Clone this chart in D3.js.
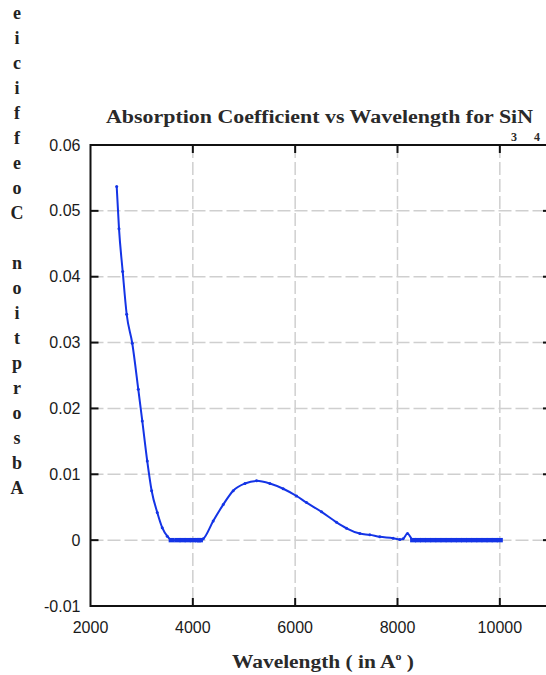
<!DOCTYPE html>
<html>
<head>
<meta charset="utf-8">
<script src="https://cdn.jsdelivr.net/npm/d3@7"></script>
<style>
  body { margin: 0; background: #fff; }
  svg { display: block; }
</style>
</head>
<body>
<svg id="chart" width="546" height="675"></svg>
<script>
(function() {
  // Data (wavelength in angstrom, absorption coefficient)
  const wavelength = [
    2512, 2557, 2629, 2707, 2816, 2934, 3012, 3109, 3195, 3305, 3402, 3500,
    3586, 3700, 3800, 3900, 4000, 4100, 4139, 4203, 4398, 4594, 4789, 5018,
    5246, 5506, 5766, 6027, 6223, 6516, 6809, 7004, 7264, 7459, 7654, 7914,
    8045, 8109, 8195, 8305, 8400, 8500, 8600, 8700, 8800, 8900, 9000, 9100,
    9200, 9300, 9400, 9500, 9600, 9700, 9800, 9900, 10000
  ];
  const absorption = [
    0.0537, 0.0473, 0.0408, 0.0343, 0.0299, 0.0229, 0.0181, 0.0120, 0.0075, 0.0042, 0.0019, 0.0006,
    0, 0, 0, 0, 0, 0, 0, 0.0002, 0.0029, 0.0054, 0.0075, 0.0086,
    0.0090, 0.0086, 0.0078, 0.0067, 0.0057, 0.0043, 0.0027, 0.0018, 0.0010, 0.0008, 0.0005, 0.0003,
    0.0001, 0.0002, 0.0010, 0, 0, 0, 0, 0, 0, 0, 0, 0,
    0, 0, 0, 0, 0, 0, 0, 0, 0
  ];
  const xTicks = [2000, 4000, 6000, 8000, 10000];
  const yTicks = [-0.01, 0, 0.01, 0.02, 0.03, 0.04, 0.05, 0.06];
  const yLabelText = "Absorption Coefficie";
  const titleText = "Absorption Coefficient vs Wavelength for SiN";
  const titleSubs = ["3", "4"];

  const points = wavelength.map((w, i) => ({ w, a: absorption[i] }));

  const svg = d3.select("#chart");
  const margin = { top: 145, right: -5, bottom: 69, left: 90.5 };
  const width = 546 - margin.left - margin.right;
  const height = 675 - margin.top - margin.bottom;

  const x = d3.scaleLinear().domain([2000, 11000]).range([0, width]);
  const y = d3.scaleLinear().domain([-0.01, 0.06]).range([height, 0]);

  const g = svg.append("g").attr("transform", `translate(${margin.left},${margin.top})`);

  // Grid
  g.append("g")
    .selectAll("line")
    .data(xTicks.slice(1))
    .join("line")
    .attr("x1", d => x(d)).attr("x2", d => x(d))
    .attr("y1", 0).attr("y2", height)
    .attr("stroke", "#cfcfcf").attr("stroke-width", 1.5)
    .attr("stroke-dasharray", "13,4");
  g.append("g")
    .selectAll("line")
    .data(yTicks.slice(1, -1))
    .join("line")
    .attr("x1", 0).attr("x2", width)
    .attr("y1", d => y(d)).attr("y2", d => y(d))
    .attr("stroke", "#cfcfcf").attr("stroke-width", 1.5)
    .attr("stroke-dasharray", "13,4");

  // Curve
  const blue = "#1434e6";
  const line = d3.line().x(d => x(d.w)).y(d => y(d.a)).curve(d3.curveMonotoneX);
  g.append("path")
    .datum(points)
    .attr("fill", "none")
    .attr("stroke", blue)
    .attr("stroke-width", 2)
    .attr("d", line);
  // dense markers on the flat parts merge into a thick band
  g.append("g")
    .selectAll("rect")
    .data(points.filter(d => d.a === 0))
    .join("rect")
    .attr("x", d => x(d.w) - 3)
    .attr("y", d => y(d.a) - 2.2)
    .attr("width", 6)
    .attr("height", 4.4)
    .attr("fill", blue);
  g.append("g")
    .selectAll("circle")
    .data(points.filter(d => d.a !== 0))
    .join("circle")
    .attr("cx", d => x(d.w))
    .attr("cy", d => y(d.a))
    .attr("r", 1.5)
    .attr("fill", blue);

  // Frame with inward ticks
  const axisColor = "#111";
  g.append("rect")
    .attr("width", width).attr("height", height)
    .attr("fill", "none").attr("stroke", axisColor).attr("stroke-width", 2);

  const ticks = g.append("g").attr("stroke", axisColor).attr("stroke-width", 2);
  xTicks.slice(1).forEach(t => {
    ticks.append("line").attr("x1", x(t)).attr("x2", x(t)).attr("y1", 0).attr("y2", 8);
    ticks.append("line").attr("x1", x(t)).attr("x2", x(t)).attr("y1", height).attr("y2", height - 8);
  });
  yTicks.slice(1, -1).forEach(t => {
    ticks.append("line").attr("x1", 0).attr("x2", 8).attr("y1", y(t)).attr("y2", y(t));
    ticks.append("line").attr("x1", width).attr("x2", width - 8).attr("y1", y(t)).attr("y2", y(t));
  });

  // Tick labels
  const tickFont = "'Liberation Sans', Arial, sans-serif";
  g.append("g")
    .selectAll("text")
    .data(xTicks)
    .join("text")
    .attr("x", d => x(d))
    .attr("y", height + 27)
    .attr("text-anchor", "middle")
    .attr("font-family", tickFont)
    .attr("font-size", 16)
    .attr("fill", "#1a1a1a")
    .text(d => d);
  g.append("g")
    .selectAll("text")
    .data(yTicks)
    .join("text")
    .attr("x", -10)
    .attr("y", d => y(d))
    .attr("dy", "0.35em")
    .attr("text-anchor", "end")
    .attr("font-family", tickFont)
    .attr("font-size", 16)
    .attr("fill", "#1a1a1a")
    .text(d => (d === 0 ? "0" : d.toFixed(2)));

  // Title
  const serif = "'Liberation Serif', 'Times New Roman', serif";
  const title = svg.append("text")
    .attr("x", 106)
    .attr("y", 123)
    .attr("font-family", serif)
    .attr("font-size", 18)
    .attr("font-weight", "bold")
    .attr("fill", "#2a2a2a")
    .attr("textLength", 427)
    .attr("lengthAdjust", "spacingAndGlyphs")
    .text(titleText);
  const tNode = title.node();
  const n = titleText.length;
  const sEnd = tNode.getEndPositionOfChar(n - 3).x;
  const nEnd = tNode.getEndPositionOfChar(n - 1).x;
  svg.append("g")
    .selectAll("text")
    .data(titleSubs)
    .join("text")
    .attr("x", (d, i) => (i === 0 ? sEnd : nEnd + 1))
    .attr("y", 141)
    .attr("font-family", serif)
    .attr("font-size", 12)
    .attr("font-weight", "bold")
    .attr("fill", "#2a2a2a")
    .text(d => d);

  // X label
  const xl = svg.append("text")
    .attr("x", 232)
    .attr("y", 668)
    .attr("font-family", serif)
    .attr("font-size", 18)
    .attr("font-weight", "bold")
    .attr("fill", "#2a2a2a")
    .attr("textLength", 182)
    .attr("lengthAdjust", "spacingAndGlyphs");
  xl.append("tspan").text("Wavelength ( in A");
  xl.append("tspan").attr("font-size", 10).attr("dy", -8).text("o");
  xl.append("tspan").attr("dy", 8).text(" )");

  // Y label: upright letters stacked, read bottom to top
  const letters = yLabelText.split("").reverse();
  svg.append("g")
    .selectAll("text")
    .data(letters)
    .join("text")
    .attr("x", 17)
    .attr("y", (d, i) => 13 + i * 25)
    .attr("dy", "0.35em")
    .attr("text-anchor", "middle")
    .attr("font-family", serif)
    .attr("font-size", 18)
    .attr("font-weight", "bold")
    .attr("fill", "#222")
    .text(d => d);
})();
</script>
</body>
</html>
